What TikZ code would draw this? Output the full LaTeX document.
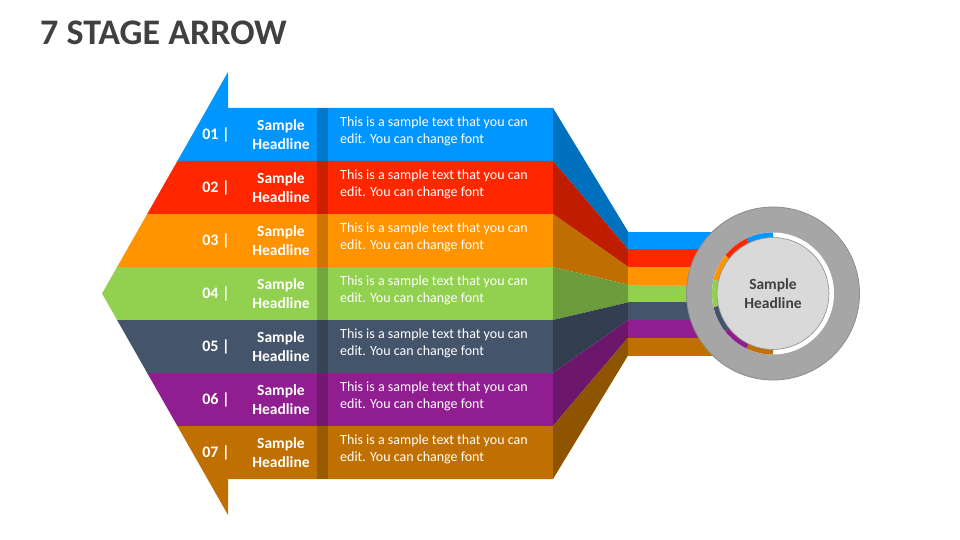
\documentclass[tikz,border=0pt]{standalone}
\usepackage{fontspec}
\setmainfont{Carlito}
\definecolor{sblue}{HTML}{0096FF}
\definecolor{sred}{HTML}{FF2600}
\definecolor{sorange}{HTML}{FF9300}
\definecolor{sgreen}{HTML}{92D050}
\definecolor{sslate}{HTML}{44546A}
\definecolor{spurple}{HTML}{901E90}
\definecolor{sbrown}{HTML}{BF7000}
\definecolor{sgrey}{HTML}{404040}
\definecolor{ringfill}{HTML}{A6A6A6}
\definecolor{ringline}{HTML}{8C8C8C}
\definecolor{diskfill}{HTML}{D9D9D9}
\begin{document}
\begin{tikzpicture}[x=1pt,y=-1pt,
    num/.style={text=white,font=\fontsize{16}{19}\selectfont\bfseries},
    head/.style={text=white,align=center,font=\fontsize{15.5}{18.7}\selectfont\bfseries},
    body/.style={text=white,align=left,anchor=west,inner sep=0pt,font=\fontsize{14}{17}\selectfont},
    side/.style={fill=#1!75!black},
    arcseg/.style={#1,line width=5pt}]
    \useasboundingbox (0,0) rectangle (960,540);
    \node[anchor=base west,inner sep=0pt,text=sgrey,font=\fontsize{36}{40}\selectfont\bfseries] (title) at (40,45) {7 STAGE ARROW};
    \fill[sblue] (228,72) -- (228,108) -- (553,108) -- (553,161) -- (177.4,161) -- cycle;
    \fill[sred] (177.4,161) -- (553,161) -- (553,214) -- (147.2,214) -- cycle;
    \fill[sorange] (147.2,214) -- (553,214) -- (553,267) -- (117.1,267) -- cycle;
    \fill[sgreen] (117.1,267) -- (553,267) -- (553,320) -- (117.1,320) -- (102,293.5) -- cycle;
    \fill[sslate] (117.1,320) -- (553,320) -- (553,373) -- (147.2,373) -- cycle;
    \fill[spurple] (147.2,373) -- (553,373) -- (553,426) -- (177.4,426) -- cycle;
    \fill[sbrown] (177.4,426) -- (553,426) -- (553,479) -- (228,479) -- (228,515) -- cycle;
    \fill[black,opacity=.2] (317,108) rectangle (328,479);
    \fill[side=sblue] (553,108) -- (628,231.5) -- (628,249.2) -- (553,161) -- cycle;
    \fill[side=sred] (553,161) -- (628,249.2) -- (628,266.9) -- (553,214) -- cycle;
    \fill[side=sorange] (553,214) -- (628,266.9) -- (628,284.6) -- (553,267) -- cycle;
    \fill[side=sgreen] (553,267) -- (628,284.6) -- (628,302.4) -- (553,320) -- cycle;
    \fill[side=sslate] (553,320) -- (628,302.4) -- (628,320.1) -- (553,373) -- cycle;
    \fill[side=spurple] (553,373) -- (628,320.1) -- (628,337.8) -- (553,426) -- cycle;
    \fill[side=sbrown] (553,426) -- (628,337.8) -- (628,355.5) -- (553,479) -- cycle;
    \fill[sblue] (628,231.5) rectangle (773,249.2);
    \fill[sred] (628,249.2) rectangle (773,266.9);
    \fill[sorange] (628,266.9) rectangle (773,284.6);
    \fill[sgreen] (628,284.6) rectangle (773,302.4);
    \fill[sslate] (628,302.4) rectangle (773,320.1);
    \fill[spurple] (628,320.1) rectangle (773,337.8);
    \fill[sbrown] (628,337.8) rectangle (773,355.5);
    \node[num] (n1) at (216,134.5) {01 |};
    \node[head] (h1) at (281,134.5) {Sample\\Headline};
    \node[body] (t1) at (340,131.5) {This is a sample text that you can\\edit. You can change font};
    \node[num] (n2) at (216,187.5) {02 |};
    \node[head] (h2) at (281,187.5) {Sample\\Headline};
    \node[body] (t2) at (340,184.5) {This is a sample text that you can\\edit. You can change font};
    \node[num] (n3) at (216,240.5) {03 |};
    \node[head] (h3) at (281,240.5) {Sample\\Headline};
    \node[body] (t3) at (340,237.5) {This is a sample text that you can\\edit. You can change font};
    \node[num] (n4) at (216,293.5) {04 |};
    \node[head] (h4) at (281,293.5) {Sample\\Headline};
    \node[body] (t4) at (340,290.5) {This is a sample text that you can\\edit. You can change font};
    \node[num] (n5) at (216,346.5) {05 |};
    \node[head] (h5) at (281,346.5) {Sample\\Headline};
    \node[body] (t5) at (340,343.5) {This is a sample text that you can\\edit. You can change font};
    \node[num] (n6) at (216,399.5) {06 |};
    \node[head] (h6) at (281,399.5) {Sample\\Headline};
    \node[body] (t6) at (340,396.5) {This is a sample text that you can\\edit. You can change font};
    \node[num] (n7) at (216,452.5) {07 |};
    \node[head] (h7) at (281,452.5) {Sample\\Headline};
    \node[body] (t7) at (340,449.5) {This is a sample text that you can\\edit. You can change font};
    \coordinate (hub) at (773,293.5);
    \draw[fill=ringfill,draw=ringline,line width=.8pt] (hub) circle (86.5);
    \fill[white] (hub) circle (61);
    \draw[arcseg=sblue] ([shift={(270:58.5)}]hub) arc[start angle=270,end angle=244.29,radius=58.5];
    \draw[arcseg=sred] ([shift={(244.29:58.5)}]hub) arc[start angle=244.29,end angle=218.57,radius=58.5];
    \draw[arcseg=sorange] ([shift={(218.57:58.5)}]hub) arc[start angle=218.57,end angle=192.86,radius=58.5];
    \draw[arcseg=sgreen] ([shift={(192.86:58.5)}]hub) arc[start angle=192.86,end angle=167.14,radius=58.5];
    \draw[arcseg=sslate] ([shift={(167.14:58.5)}]hub) arc[start angle=167.14,end angle=141.43,radius=58.5];
    \draw[arcseg=spurple] ([shift={(141.43:58.5)}]hub) arc[start angle=141.43,end angle=115.71,radius=58.5];
    \draw[arcseg=sbrown] ([shift={(115.71:58.5)}]hub) arc[start angle=115.71,end angle=90,radius=58.5];
    \draw[fill=diskfill,draw=ringline,line width=.6pt] (hub) circle (56);
    \node[head,text=sgrey] (hubtext) at (hub) {Sample\\Headline};
\end{tikzpicture}
\end{document}
